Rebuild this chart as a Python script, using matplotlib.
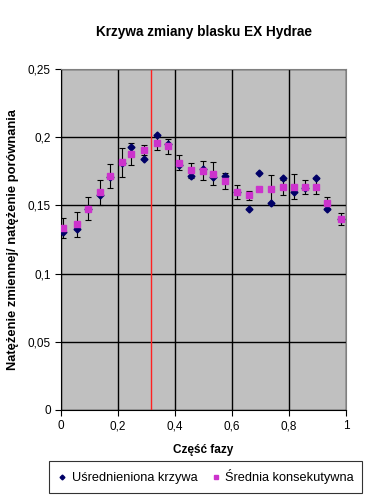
import matplotlib
matplotlib.use("Agg")
import matplotlib.pyplot as plt
from matplotlib.ticker import FuncFormatter

plt.rcParams['font.family'] = ['Liberation Sans', 'DejaVu Sans']

# phase of each bin
faza = [0.007, 0.055, 0.096, 0.135, 0.171, 0.215, 0.247, 0.292, 0.338, 0.376,
        0.415, 0.455, 0.497, 0.534, 0.574, 0.619, 0.661, 0.696, 0.738, 0.778,
        0.816, 0.855, 0.894, 0.933, 0.981]
# averaged curve (diamonds)
krzywa = [0.1305, 0.133, 0.147, 0.1576, 0.171, 0.181, 0.1926, 0.1838, 0.2018, 0.195,
          0.1796, 0.1718, 0.177, 0.1706, 0.1713, 0.160, 0.1476, 0.174, 0.1515, 0.170,
          0.160, 0.163, 0.1703, 0.1476, 0.140]
# consecutive mean (squares) and its error
srednia = [0.1334, 0.136, 0.1476, 0.1596, 0.1715, 0.1816, 0.1874, 0.1906, 0.1958, 0.1935,
           0.1813, 0.1757, 0.1754, 0.1732, 0.168, 0.1598, 0.1576, 0.1623, 0.162, 0.1632,
           0.1637, 0.1637, 0.1635, 0.152, 0.140]
blad = [0.0075, 0.009, 0.0083, 0.0093, 0.009, 0.0105, 0.008, 0.0035, 0.005, 0.0055,
        0.0054, 0.0056, 0.007, 0.0083, 0.0058, 0.0052, 0.0033, 0.0, 0.0104, 0.0053,
        0.009, 0.005, 0.0055, 0.0041, 0.0045]
faza_max = 0.316

fig = plt.figure(figsize=(3.84, 5.0), dpi=100)
ax = fig.add_axes([0.159, 0.18, 0.742, 0.682])
ax.set_facecolor('#C0C0C0')

ax.grid(True, color='black', linewidth=1)
ax.set_axisbelow(True)
ax.axvline(faza_max, color='#FF2020', linewidth=1, zorder=1.5)

ax.errorbar(faza, srednia, yerr=blad, fmt='none', ecolor='black',
            elinewidth=0.8, capsize=2.5, capthick=0.8, zorder=2)
ax.plot(faza, krzywa, linestyle='none', marker='D', markersize=3.5,
        color='#000066', label='Uśrednieniona krzywa', zorder=3)
ax.plot(faza, srednia, linestyle='none', marker='s', markersize=5,
        color='#CC33CC', label='Średnia konsekutywna', zorder=4)

ax.set_xlim(0, 1)
ax.set_ylim(0, 0.25)
ax.set_xticks([0, 0.2, 0.4, 0.6, 0.8, 1])
ax.set_yticks([0, 0.05, 0.1, 0.15, 0.2, 0.25])
fmt = FuncFormatter(lambda v, p: ('%g' % round(v, 2)).replace('.', ','))
ax.xaxis.set_major_formatter(fmt)
ax.yaxis.set_major_formatter(fmt)
ax.tick_params(labelsize=8.5, direction='out', length=4, width=0.8)
for s in ['top', 'right']:
    ax.spines[s].set_color('#808080')
for s in ['left', 'bottom']:
    ax.spines[s].set_color('black')

ax.set_title('Krzywa zmiany blasku EX Hydrae', fontsize=9.8, fontweight='bold', pad=24)
ax.set_xlabel('Część fazy', fontsize=8.5, fontweight='bold', labelpad=8)
ax.set_ylabel('Natężenie zmiennej/ natężenie porównania', fontsize=9.3,
              fontweight='bold', labelpad=6)

leg = fig.legend(loc='lower center', bbox_to_anchor=(0.536, 0.002), ncol=2,
                 fontsize=9.2, frameon=True, fancybox=False, edgecolor='black',
                 handlelength=0.7, handletextpad=0.4, columnspacing=1.1,
                 borderpad=0.65, markerscale=0.7)
leg.get_frame().set_linewidth(0.8)

fig.savefig('out.png', dpi=100)
